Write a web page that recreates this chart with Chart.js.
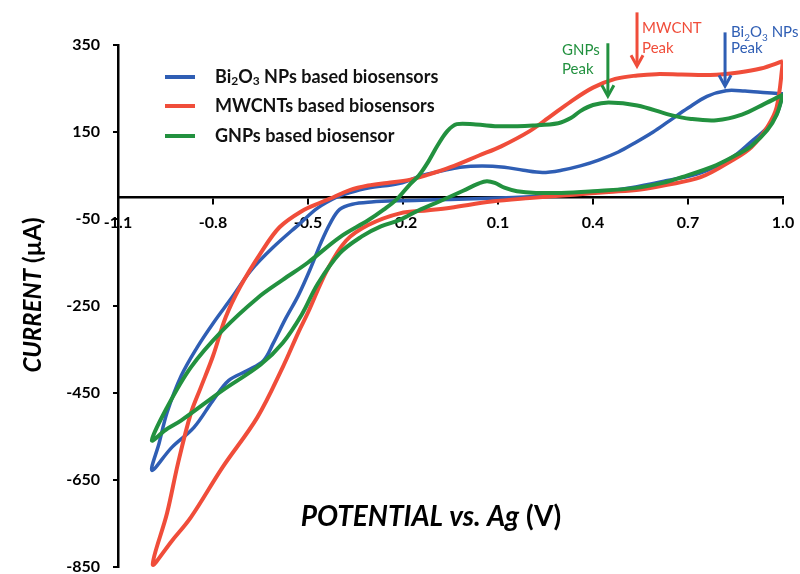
<!DOCTYPE html>
<html>
<head>
<meta charset="utf-8">
<script src="https://cdn.jsdelivr.net/npm/chart.js@4.4.1/dist/chart.umd.min.js"></script>
<style>
  html, body { margin: 0; padding: 0; background: #fff; }
  canvas { display: block; }
</style>
</head>
<body>
<canvas id="cvChart" width="800" height="574"></canvas>
<script>
// axis ticks
const potentialTicks = [-1.1, -0.8, -0.5, -0.2, 0.1, 0.4, 0.7, 1.0];
const currentTicks = [350, 150, -50, -250, -450, -650, -850];

// Bi2O3 NPs: sweep from 1.0 V down to -1.0 V (upper branch), then back up
const bi2o3Potential = [1.00, 0.95, 0.88, 0.82, 0.76, 0.70, 0.64, 0.59, 0.53, 0.48, 0.42, 0.36, 0.30, 0.24, 0.18, 0.12, 0.05, -0.02, -0.08, -0.14, -0.21, -0.31, -0.37, -0.41, -0.47, -0.525, -0.61, -0.68, -0.74, -0.80, -0.85, -0.90, -0.945, -0.97, -0.993,
  -0.93, -0.86, -0.80, -0.75, -0.69, -0.64, -0.61, -0.57, -0.53, -0.49, -0.46, -0.43, -0.40, -0.36, -0.30, -0.21, -0.10, 0.00, 0.10, 0.20, 0.30, 0.42, 0.52, 0.63, 0.74, 0.84, 0.90, 0.95, 0.98, 1.00];
const bi2o3Current = [238, 240, 244, 245, 232, 205, 175, 150, 124, 104, 86, 72, 62, 57, 62, 69, 72, 69, 60, 50, 32, 21, 10, 0, -25, -60, -115, -168, -230, -290, -345, -410, -495, -565, -628,
  -575, -529, -467, -421, -398, -375, -336, -278, -225, -160, -106, -60, -28, -16, -11, -8, -6, -4, -2, 1, 5, 12, 22, 38, 56, 92, 128, 160, 190, 238];

// MWCNTs
const mwcntPotential = [1.00, 0.93, 0.86, 0.77, 0.68, 0.60, 0.54, 0.47, 0.40, 0.33, 0.26, 0.20, 0.11, 0.04, -0.05, -0.12, -0.18, -0.25, -0.31, -0.37, -0.42, -0.46, -0.52, -0.59, -0.65, -0.715, -0.76, -0.80, -0.84, -0.87, -0.91, -0.945, -0.99,
  -0.93, -0.87, -0.77, -0.66, -0.58, -0.53, -0.50, -0.44, -0.38, -0.31, -0.21, -0.12, -0.05, 0.08, 0.20, 0.34, 0.45, 0.55, 0.63, 0.74, 0.84, 0.90, 0.95, 0.98, 1.00];
const mwcntCurrent = [313, 296, 287, 281, 282, 283, 280, 272, 252, 220, 183, 152, 117, 96, 69, 52, 40, 33, 27, 16, 0, -12, -32, -69, -129, -207, -276, -365, -440, -497, -610, -726, -845,
  -790, -736, -621, -506, -391, -310, -265, -168, -100, -64, -37, -30, -24, -10, -2, 6, 12, 18, 28, 46, 85, 115, 161, 207, 313];

// GNPs
const gnpPotential = [1.00, 0.94, 0.87, 0.79, 0.71, 0.64, 0.54, 0.45, 0.40, 0.36, 0.33, 0.29, 0.21, 0.11, 0.03, -0.03, -0.06, -0.09, -0.12, -0.15, -0.18, -0.22, -0.26, -0.31, -0.40, -0.50, -0.58, -0.66, -0.77, -0.87, -0.945, -0.993,
  -0.95, -0.90, -0.77, -0.65, -0.58, -0.52, -0.47, -0.40, -0.33, -0.27, -0.21, -0.15, -0.08, -0.01, 0.04, 0.065, 0.09, 0.12, 0.16, 0.22, 0.30, 0.40, 0.53, 0.62, 0.68, 0.79, 0.86, 0.90, 0.95, 0.98, 1.00];
const gnpCurrent = [236, 214, 190, 177, 180, 190, 211, 218, 212, 198, 182, 170, 165, 163, 167, 168, 152, 120, 82, 50, 28, -5, -28, -53, -92, -150, -190, -232, -306, -391, -483, -559,
  -535, -513, -444, -385, -335, -270, -200, -129, -90, -67, -52, -30, -8, 15, 32, 37, 33, 22, 14, 10, 10, 14, 21, 33, 46, 74, 100, 118, 154, 190, 236];

const BLUE = '#2f5eb4';
const RED = '#f04d3a';
const GREEN = '#22913f';
const FONT = "Lato, 'Open Sans', sans-serif";

function toPoints(xs, ys) {
  return xs.map((x, i) => ({ x: x, y: ys[i] }));
}

// draw a run of text pieces, some italic, some subscript
function drawRich(ctx, parts, x, y, size, align) {
  const fontOf = p => (p.italic ? 'italic ' : '') + (p.bold ? 'bold ' : '') +
    (p.sub ? Math.round(size * 0.65) : size) + 'px ' + FONT;
  const widths = parts.map(p => { ctx.font = fontOf(p); return ctx.measureText(p.text).width; });
  const total = widths.reduce((a, b) => a + b, 0);
  let cx = align === 'center' ? x - total / 2 : x;
  parts.forEach((p, i) => {
    ctx.font = fontOf(p);
    ctx.fillText(p.text, cx, y + (p.sub ? size * 0.25 : 0));
    cx += widths[i];
  });
}

const legendItems = [
  { color: BLUE, parts: [{ text: 'Bi' }, { text: '2', sub: true }, { text: 'O' }, { text: '3', sub: true }, { text: ' NPs based biosensors' }] },
  { color: RED, parts: [{ text: 'MWCNTs based biosensors' }] },
  { color: GREEN, parts: [{ text: 'GNPs based biosensor' }] }
];

// peak arrows and their labels, in data units
const peakNotes = [
  { color: GREEN, x: 0.447, top: 354, tip: 230, labelX: 0.302, labelY: [326, 283],
    lines: [[{ text: 'GNPs' }], [{ text: 'Peak' }]] },
  { color: RED, x: 0.539, top: 425, tip: 299, labelX: 0.555, labelY: [377, 331],
    lines: [[{ text: 'MWCNT' }], [{ text: 'Peak' }]] },
  { color: BLUE, x: 0.817, top: 379, tip: 253, labelX: 0.836, labelY: [368, 331],
    lines: [[{ text: 'Bi' }, { text: '2', sub: true }, { text: 'O' }, { text: '3', sub: true }, { text: ' NPs' }], [{ text: 'Peak' }]] }
];

const decorations = {
  id: 'decorations',
  afterDraw(chart) {
    const ctx = chart.ctx;
    const xs = chart.scales.x, ys = chart.scales.y;
    ctx.save();
    ctx.textBaseline = 'middle';

    // legend
    const legendY = [77, 106, 136];
    legendItems.forEach((item, i) => {
      ctx.strokeStyle = item.color;
      ctx.lineWidth = 4;
      ctx.beginPath();
      ctx.moveTo(165, legendY[i]);
      ctx.lineTo(195, legendY[i]);
      ctx.stroke();
      ctx.fillStyle = '#111';
      drawRich(ctx, item.parts.map(p => Object.assign({ bold: true }, p)), 215, legendY[i], 18, 'left');
    });

    // axis titles
    ctx.fillStyle = '#000';
    drawRich(ctx, [{ text: 'POTENTIAL vs. Ag', bold: true, italic: true }, { text: ' (V)', bold: true }], 431, 517, 28, 'center');
    ctx.save();
    ctx.translate(33, 295);
    ctx.rotate(-Math.PI / 2);
    drawRich(ctx, [{ text: 'CURRENT', bold: true, italic: true }, { text: ' (\u00B5A)', bold: true }], 0, 0, 24, 'center');
    ctx.restore();

    // peak markers
    ctx.textBaseline = 'alphabetic';
    peakNotes.forEach(n => {
      const px = xs.getPixelForValue(n.x);
      const yTop = ys.getPixelForValue(n.top);
      const yTip = ys.getPixelForValue(n.tip);
      ctx.strokeStyle = n.color;
      ctx.lineWidth = 3;
      ctx.lineJoin = 'miter';
      ctx.beginPath();
      ctx.moveTo(px, yTop);
      ctx.lineTo(px, yTip - 2);
      ctx.stroke();
      ctx.beginPath();
      ctx.moveTo(px - 6, yTip - 12);
      ctx.lineTo(px, yTip - 1);
      ctx.lineTo(px + 6, yTip - 12);
      ctx.stroke();
      ctx.fillStyle = n.color;
      const lx = xs.getPixelForValue(n.labelX);
      n.lines.forEach((line, i) => {
        drawRich(ctx, line, lx, ys.getPixelForValue(n.labelY[i]), 15, 'left');
      });
    });
    ctx.restore();
  }
};

function series(label, xs, ys, color, width) {
  return {
    label: label,
    data: toPoints(xs, ys),
    showLine: true,
    borderColor: color,
    backgroundColor: color,
    borderWidth: width,
    pointRadius: 0,
    tension: 0.35,
    fill: false
  };
}

const tickFont = { family: FONT, size: 16, weight: 'bold' };

new Chart(document.getElementById('cvChart').getContext('2d'), {
  type: 'scatter',
  data: {
    datasets: [
      series('GNPs based biosensor', gnpPotential, gnpCurrent, GREEN, 4),
      series('MWCNTs based biosensors', mwcntPotential, mwcntCurrent, RED, 4),
      series('Bi2O3 NPs based biosensors', bi2o3Potential, bi2o3Current, BLUE, 3.5)
    ]
  },
  options: {
    responsive: false,
    animation: false,
    layout: { padding: { top: 45, right: 17, bottom: 7, left: 0 } },
    plugins: {
      legend: { display: false },
      tooltip: { enabled: false }
    },
    scales: {
      x: {
        type: 'linear',
        position: { y: 0 },
        min: potentialTicks[0],
        max: potentialTicks[potentialTicks.length - 1],
        afterBuildTicks: s => { s.ticks = potentialTicks.map(v => ({ value: v })); },
        afterFit: s => { s.paddingLeft = 0; s.paddingRight = 0; },
        grid: { display: true, drawOnChartArea: false, drawTicks: true, tickLength: 6, color: '#000', lineWidth: 2 },
        border: { display: true, color: '#000', width: 2.5 },
        ticks: { font: tickFont, color: '#000', padding: 10, maxRotation: 0, autoSkip: false,
          callback: v => v.toFixed(1) }
      },
      y: {
        type: 'linear',
        position: 'left',
        min: currentTicks[currentTicks.length - 1],
        max: currentTicks[0],
        afterBuildTicks: s => { s.ticks = currentTicks.map(v => ({ value: v })); },
        afterFit: s => { s.width = 118; s.paddingTop = 0; s.paddingBottom = 0; },
        grid: { display: true, drawOnChartArea: false, drawTicks: true, tickLength: 5, color: '#000', lineWidth: 2 },
        border: { display: true, color: '#000', width: 2.5 },
        ticks: { font: tickFont, color: '#000', padding: 13, autoSkip: false }
      }
    }
  },
  plugins: [decorations]
});
</script>
</body>
</html>
